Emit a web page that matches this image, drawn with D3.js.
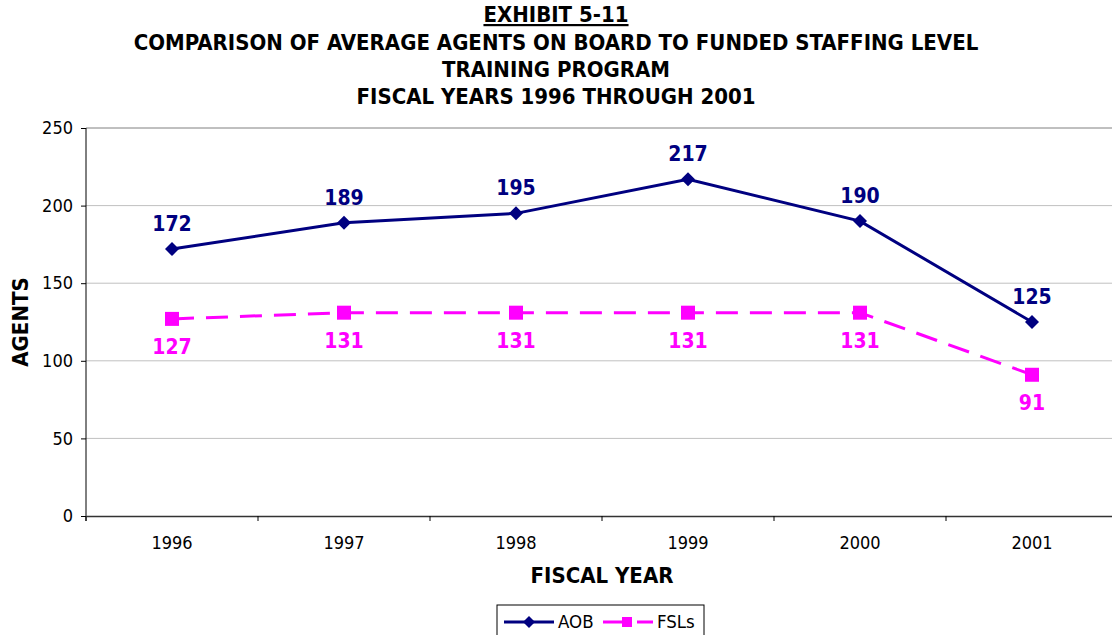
<!DOCTYPE html>
<html>
<head>
<meta charset="utf-8">
<script src="https://cdn.jsdelivr.net/npm/d3@7"></script>
<style>
  body { margin: 0; background: #fff; }
  svg { font-family: "DejaVu Sans Condensed", "DejaVu Sans", sans-serif; }
</style>
</head>
<body>
<div id="chart-area"></div>
<script>
var years = ["1996", "1997", "1998", "1999", "2000", "2001"];
var aob = [172, 189, 195, 217, 190, 125];
var fsl = [127, 131, 131, 131, 131, 91];
var yTicks = [0, 50, 100, 150, 200, 250];
var titleLines = [
  "COMPARISON OF AVERAGE AGENTS ON BOARD TO FUNDED STAFFING LEVEL",
  "TRAINING PROGRAM",
  "FISCAL YEARS 1996 THROUGH 2001"
];

var W = 1112, H = 635;
var margin = { left: 86, top: 128 };
var width = 1032;   // runs past the right edge like the original
var height = 388;
var fontFam = "DejaVu Sans Condensed, DejaVu Sans, sans-serif";

var svg = d3.select("#chart-area")
  .append("svg")
  .attr("width", W)
  .attr("height", H);

// Titles
svg.append("text")
  .attr("x", 556)
  .attr("y", 22)
  .attr("text-anchor", "middle")
  .attr("font-size", "22px")
  .attr("font-weight", "bold")
  .attr("text-decoration", "underline")
  .text("EXHIBIT 5-11");

svg.selectAll(".title")
  .data(titleLines)
  .enter()
  .append("text")
  .attr("class", "title")
  .attr("x", 556)
  .attr("y", (d, i) => 50 + i * 27)
  .attr("text-anchor", "middle")
  .attr("font-size", "22px")
  .attr("font-weight", "bold")
  .text(d => d);

var g = svg.append("g")
  .attr("transform", "translate(" + margin.left + "," + margin.top + ")");

var x = d3.scaleBand()
  .domain(years)
  .range([0, width]);

var y = d3.scaleLinear()
  .domain([0, 250])
  .range([height, 0]);

// grid
g.selectAll(".grid")
  .data(yTicks.filter(d => d > 0))
  .enter()
  .append("line")
  .attr("x1", 0)
  .attr("x2", width)
  .attr("y1", d => y(d))
  .attr("y2", d => y(d))
  .attr("stroke", d => d === 250 ? "#808080" : "#c0c0c0")
  .attr("stroke-width", 1);

// y axis
var yAxis = g.append("g")
  .call(d3.axisLeft(y).tickValues(yTicks).tickSize(5).tickPadding(8));
yAxis.select(".domain").attr("stroke", "#000").attr("d", "M0," + (height + 5) + "V0");
yAxis.selectAll("text").attr("font-size", "18px").attr("fill", "#000")
  .attr("font-family", fontFam);

// x axis
var xAxis = g.append("g")
  .attr("transform", "translate(0," + height + ")")
  .call(d3.axisBottom(x).tickSize(0).tickPadding(20));
xAxis.select(".domain").attr("stroke", "#333").attr("stroke-width", 1.5);
xAxis.selectAll("text").attr("font-size", "18px").attr("fill", "#000")
  .attr("font-family", fontFam);

g.selectAll(".xtick")
  .data(years)
  .enter()
  .append("line")
  .attr("x1", d => x(d))
  .attr("x2", d => x(d))
  .attr("y1", height)
  .attr("y2", height + 5)
  .attr("stroke", "#000");

// axis labels
svg.append("text")
  .attr("transform", "translate(28," + (margin.top + height / 2) + ") rotate(-90)")
  .attr("text-anchor", "middle")
  .attr("font-size", "22px")
  .attr("font-weight", "bold")
  .text("AGENTS");

svg.append("text")
  .attr("x", 602)
  .attr("y", 583)
  .attr("text-anchor", "middle")
  .attr("font-size", "22px")
  .attr("font-weight", "bold")
  .text("FISCAL YEAR");

var cx = d => x(d) + x.bandwidth() / 2;
var navy = "#000080", pink = "#ff00ff";

var line = d3.line()
  .x((d, i) => cx(years[i]))
  .y(d => y(d));

// FSL dashed line
g.append("path")
  .datum(fsl)
  .attr("d", line)
  .attr("fill", "none")
  .attr("stroke", pink)
  .attr("stroke-width", 3)
  .attr("stroke-dasharray", "22,12");

g.selectAll(".fslpt")
  .data(fsl)
  .enter()
  .append("rect")
  .attr("x", (d, i) => cx(years[i]) - 7)
  .attr("y", d => y(d) - 7)
  .attr("width", 14)
  .attr("height", 14)
  .attr("fill", pink);

g.selectAll(".fsllbl")
  .data(fsl)
  .enter()
  .append("text")
  .attr("x", (d, i) => cx(years[i]))
  .attr("y", d => y(d) + 35)
  .attr("text-anchor", "middle")
  .attr("font-size", "21px")
  .attr("font-weight", "bold")
  .attr("fill", pink)
  .text(d => d);

// AOB solid line
g.append("path")
  .datum(aob)
  .attr("d", line)
  .attr("fill", "none")
  .attr("stroke", navy)
  .attr("stroke-width", 3);

g.selectAll(".aobpt")
  .data(aob)
  .enter()
  .append("path")
  .attr("transform", (d, i) => "translate(" + cx(years[i]) + "," + y(d) + ")")
  .attr("d", "M0,-7L7,0L0,7L-7,0Z")
  .attr("fill", navy);

g.selectAll(".aoblbl")
  .data(aob)
  .enter()
  .append("text")
  .attr("x", (d, i) => cx(years[i]))
  .attr("y", d => y(d) - 18)
  .attr("text-anchor", "middle")
  .attr("font-size", "21px")
  .attr("font-weight", "bold")
  .attr("fill", navy)
  .text(d => d);

// legend
var legend = svg.append("g").attr("transform", "translate(497,605)");
legend.append("rect")
  .attr("width", 207)
  .attr("height", 34)
  .attr("fill", "#fff")
  .attr("stroke", "#000");

legend.append("line")
  .attr("x1", 7).attr("x2", 57).attr("y1", 17).attr("y2", 17)
  .attr("stroke", navy).attr("stroke-width", 3);
legend.append("path")
  .attr("transform", "translate(32,17)")
  .attr("d", "M0,-6L6,0L0,6L-6,0Z")
  .attr("fill", navy);
legend.append("text")
  .attr("x", 61).attr("y", 23)
  .attr("font-size", "18.5px")
  .text("AOB");

legend.append("line")
  .attr("x1", 106).attr("x2", 156).attr("y1", 17).attr("y2", 17)
  .attr("stroke", pink).attr("stroke-width", 3)
  .attr("stroke-dasharray", "28,6");
legend.append("rect")
  .attr("x", 125).attr("y", 12).attr("width", 10).attr("height", 10)
  .attr("fill", pink);
legend.append("text")
  .attr("x", 160).attr("y", 23)
  .attr("font-size", "18.5px")
  .text("FSLs");
</script>
</body>
</html>
